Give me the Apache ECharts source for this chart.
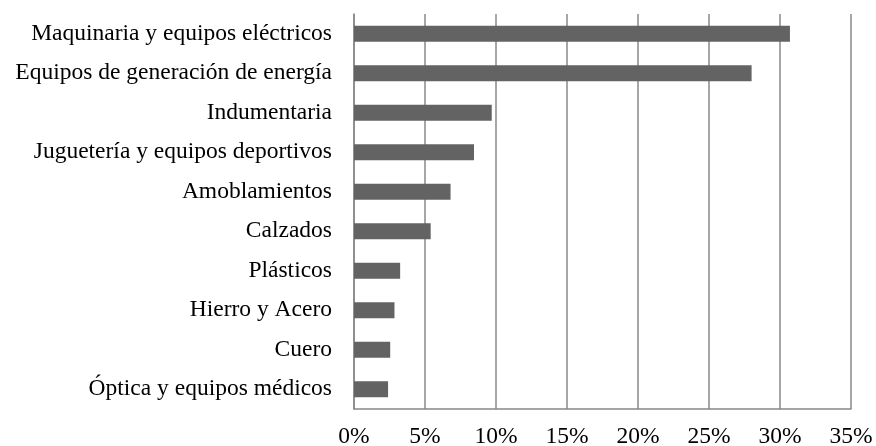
<!DOCTYPE html>
<html><head><meta charset="utf-8">
<script src="https://cdn.jsdelivr.net/npm/echarts@6/dist/echarts.min.js"></script>
<style>html,body{margin:0;padding:0;background:#fff}#c{width:876px;height:446px}</style>
</head><body><div id="c"></div>
<script>
const categories = ["Maquinaria y equipos eléctricos","Equipos de generación de energía","Indumentaria","Juguetería y equipos deportivos","Amoblamientos","Calzados","Plásticos","Hierro y Acero","Cuero","Óptica y equipos médicos"];
const values = [30.7, 28.0, 9.7, 8.45, 6.8, 5.4, 3.25, 2.85, 2.55, 2.4];
const xTicks = {min: 0, max: 35, interval: 5};
const chart = echarts.init(document.getElementById('c'), null, {renderer:'canvas'});
chart.setOption({
  animation:false,
  grid:{left:354, right:25, top:14, bottom:37, containLabel:false, outerBoundsMode:'none'},
  xAxis:{type:'value', min:xTicks.min, max:xTicks.max, interval:xTicks.interval,
    axisLine:{show:true, lineStyle:{color:'#888', width:1.5}},
    axisTick:{show:false},
    splitLine:{show:true, lineStyle:{color:'#888', width:1.5}},
    axisLabel:{formatter:'{value}%', color:'#000', fontFamily:'Liberation Serif', fontSize:23.5, margin:16}},
  yAxis:{type:'category', data:categories, inverse:true,
    axisLine:{show:true, lineStyle:{color:'#888', width:1.5}},
    axisTick:{show:false},
    axisLabel:{color:'#000', fontFamily:'Liberation Serif', fontSize:23.5, margin:22}},
  series:[{type:'bar', data:values, barWidth:16, itemStyle:{color:'#636363'}}]
});
</script></body></html>
